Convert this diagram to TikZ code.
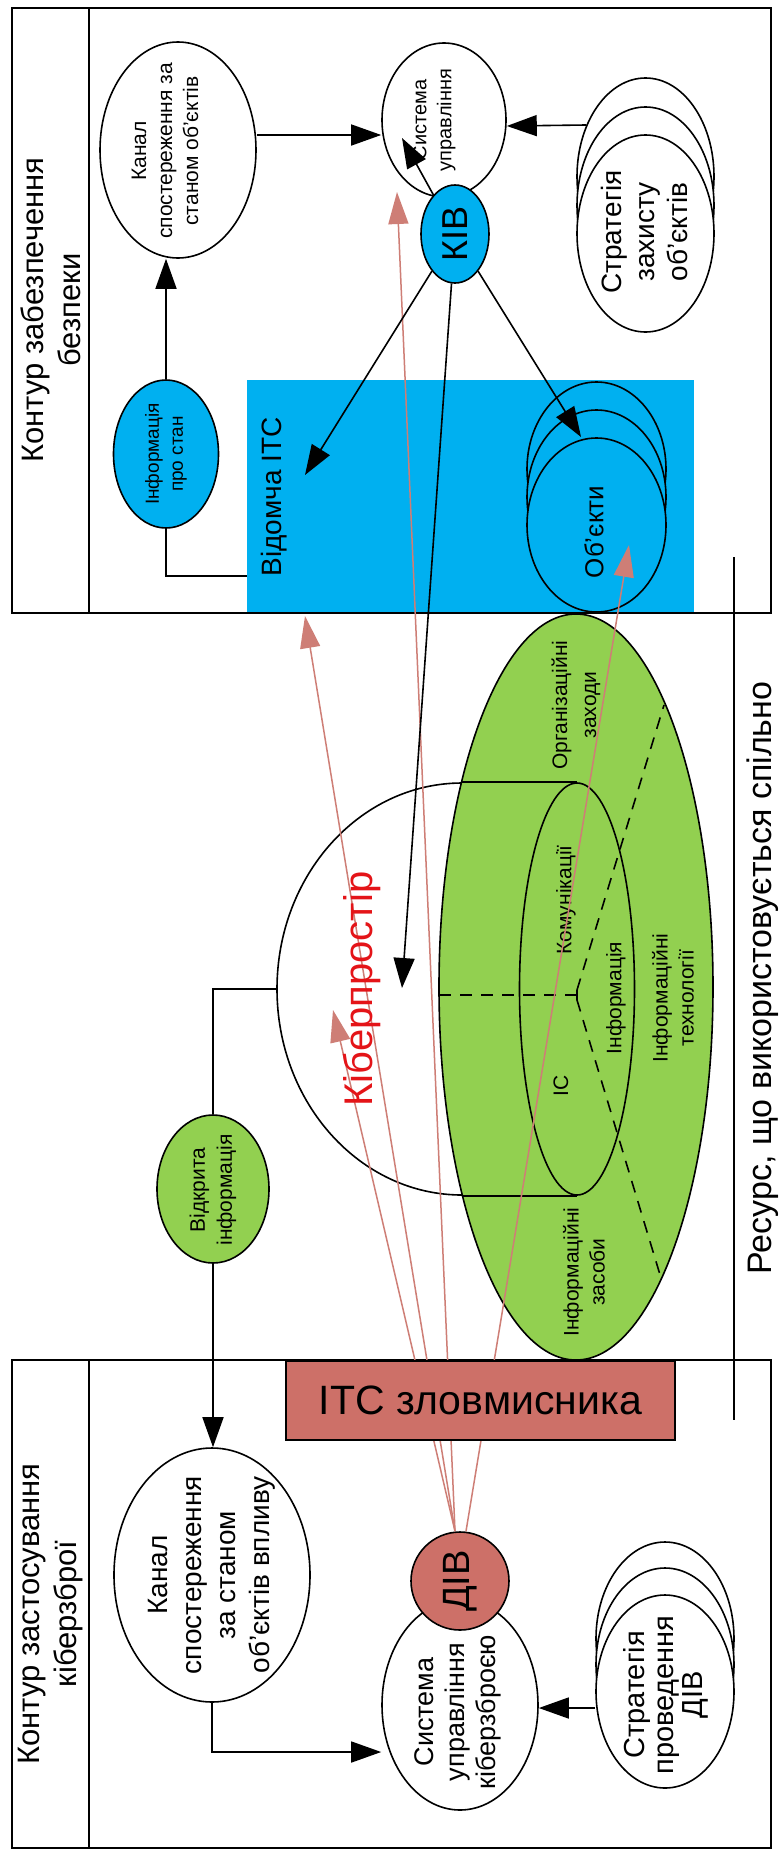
\documentclass[tikz,border=0pt]{standalone}
\usepackage{fontspec}
\setmainfont{Liberation Sans}
\usetikzlibrary{shapes.geometric,arrows.meta}

\definecolor{itcblue}{RGB}{0,176,240}
\definecolor{resgreen}{RGB}{146,208,80}
\definecolor{attack}{RGB}{205,112,104}
\definecolor{attackline}{RGB}{206,126,118}
\definecolor{cyberred}{RGB}{228,20,24}

\newcommand\fs[2]{\fontsize{#1}{#2}\selectfont}

\tikzset{
  ell/.style={ellipse, draw, line width=1.6pt, inner sep=0pt},
  lbl/.style={rotate=90, align=center, inner sep=0pt},
  conn/.style={line width=1.6pt},
  arr/.style={conn, -{Triangle[length=30pt,width=21pt]}},
  redarr/.style={draw=attackline, line width=1.5pt, -{Triangle[length=32pt,width=20pt]}},
  frm/.style={line width=1.8pt},
  dsh/.style={line width=1.6pt, dash pattern=on 12pt off 9pt}
}

\begin{document}
\begin{tikzpicture}[x=1pt, y=-1pt]
\useasboundingbox (0,0) rectangle (779,1850);
\fill[white] (0,0) rectangle (779,1850);

% departmental network block
\node[fill=itcblue, minimum width=447, minimum height=233, inner sep=0pt, anchor=north west] (itc) at (247,380) {};
\node[lbl, font={\fs{28}{32}}] (itct) at (274,497) {Відомча ІТС};

% cyberspace and shared resource
\node[ell, fill=white, minimum width=370, minimum height=412] (cyber) at (462,989) {};
\node[ell, fill=resgreen, minimum width=274, minimum height=746] (res) at (576,987) {};
\node[ell, minimum width=115, minimum height=412] (ic) at (577,989) {};
\draw[conn] (cyber.north) -- (ic.north);
\draw[conn] (cyber.south) -- (ic.south);
\coordinate (fork) at (577,995);
\coordinate (dA) at (439,995);
\coordinate (dB) at (664,705);
\coordinate (dC) at (661,1278);
\draw[dsh] (dA) -- (fork);
\draw[conn] (577,990) -- (577,1000);
\draw[dsh] (577,990) -- (dB);
\draw[dsh] (577,1000) -- (dC);
\node[lbl, font={\fs{21}{29}}] (orgt) at (576,705) {Організаційні\\заходи};
\node[lbl, font={\fs{21}{25}}] (comt) at (566,900) {Комунікації};
\node[lbl, font={\fs{21}{25}}] (inft) at (616,998) {Інформація};
\node[lbl, font={\fs{21}{25}}] (ict) at (561,1086) {ІС};
\node[lbl, font={\fs{21}{26}}] (techt) at (673,998) {Інформаційні\\технології};
\node[lbl, font={\fs{21}{26}}] (meant) at (584,1272) {Інформаційні\\засоби};

% frames
\draw[frm] (12,8) rectangle (771,613);
\draw[frm] (89,8) -- (89,613);
\node[lbl, font={\fs{31}{37}}] (titleA) at (51,310) {Контур забезпечення\\безпеки};
\draw[frm] (12,1360) rectangle (771,1848);
\draw[frm] (89,1360) -- (89,1848);
\node[lbl, font={\fs{31}{37}}] (titleB) at (51,1614) {Контур застосування\\кіберзброї};

% shared resource marker
\coordinate (rs1) at (734,557);
\coordinate (rs2) at (734,1420);
\draw[conn] (rs1) -- (rs2);
\node[lbl, font={\fs{34}{38}}] (rest) at (763,978) {Ресурс, що використовується спільно};

% security loop
\node[ell, fill=white, minimum width=156, minimum height=216] (kanalA) at (178,150) {};
\node[lbl, font={\fs{21}{26}}] at (165,151) {Канал\\спостереження за\\станом об’єктів};
\node[ell, fill=white, minimum width=124, minimum height=154] (sysA) at (444,120) {};
\node[lbl, font={\fs{20}{25}}] at (434,120) {Система\\управління};
\node[ell, fill=white, minimum width=137, minimum height=197] (stratA1) at (645.5,176.5) {};
\node[ell, fill=white, minimum width=137, minimum height=197] (stratA2) at (645.5,205.5) {};
\node[ell, fill=white, minimum width=137, minimum height=197] (stratA3) at (645.5,233.5) {};
\node[lbl, font={\fs{28}{33}}] at (644,232) {Стратегія\\захисту\\об’єктів};
\node[ell, fill=itcblue, minimum width=105, minimum height=148] (infoA) at (166,454) {};
\node[lbl, font={\fs{19}{24}}] at (166,454) {Інформація\\про стан};
\node[ell, fill=itcblue, minimum width=139, minimum height=174] (obj1) at (596.5,469) {};
\node[ell, fill=itcblue, minimum width=139, minimum height=174] (obj2) at (596.5,497) {};
\node[ell, fill=itcblue, minimum width=139, minimum height=174] (obj3) at (596.5,525) {};
\node[lbl, font={\fs{26}{30}}] at (594,532) {Об’єкти};

% weapon loop
\node[ell, fill=resgreen, minimum width=112, minimum height=148] (open) at (213,1189) {};
\node[lbl, font={\fs{21}{27}}] at (213,1190) {Відкрита\\інформація};
\node[ell, fill=white, minimum width=196, minimum height=254] (kanalB) at (212,1575) {};
\node[lbl, font={\fs{28}{34}}] at (212,1575) {Канал\\спостереження\\за станом\\об’єктів впливу};
\node[ell, fill=white, minimum width=156, minimum height=210] (sysB) at (460,1705) {};
\node[lbl, font={\fs{27}{31}}] at (458,1712) {Система\\управління\\кіберзброєю};
\node[ell, fill=white, minimum width=138, minimum height=193] (stratB1) at (665,1638.5) {};
\node[ell, fill=white, minimum width=138, minimum height=193] (stratB2) at (665,1664.5) {};
\node[ell, fill=white, minimum width=138, minimum height=193] (stratB3) at (665,1691.5) {};
\node[lbl, font={\fs{29}{29}}] at (666,1695) {Стратегія\\проведення\\ДІВ};
\node[circle, draw, line width=1.6pt, fill=attack, minimum size=98, inner sep=0pt] (div) at (460,1581) {};
\node[lbl, font={\fs{38}{40}}] at (div.center) {ДІВ};

% connectors of the security loop
\coordinate (yA) at (0,135);
\coordinate (yB) at (0,576);
\coordinate (yC) at (0,126);
\draw[arr] (kanalA.east |- yA) -- (sysA.west |- yA);
\draw[arr] (infoA.north) -- (infoA.north |- kanalA.south);
\draw[conn] (infoA.south) |- (itc.west |- yB);
\draw[arr] (stratA1.139) -- (sysA.east |- yC);

% connectors of the weapon loop
\coordinate (yD) at (0,1708);
\coordinate (yE) at (0,1752);
\draw[conn] (open.north) |- (cyber.west);
\draw[arr] (open.south) -- (open.south |- kanalB.north);
\draw[arr] (kanalB.south) |- (sysB.west |- yE);
\draw[arr] (stratB3.west |- yD) -- (sysB.east |- yD);

% attack vectors
\coordinate (d1) at ([xshift=-5pt]div.north);
\coordinate (d2) at ([xshift=6pt]div.north);
\coordinate (rt1) at (305,616);
\coordinate (rt2) at (397,192);
\coordinate (rt3) at (333,1010);
\coordinate (rt4) at (629,545);
\draw[redarr] (d1) -- (rt1);
\draw[redarr] (d1) -- (rt2);
\draw[redarr] (d1) -- (rt3);
\draw[redarr] (d2) -- (rt4);

\node[lbl, font={\fs{40}{44}}, text=cyberred] (cybert) at (362,989) {Кіберпростір};

% attacker network
\node[draw, line width=1.6pt, fill=attack, minimum width=389, minimum height=79, inner sep=0pt, anchor=north west, font={\fs{41}{45}}] (itcatt) at (285,1360) {ІТС зловмисника};

% security incident centre
\node[ell, fill=itcblue, minimum width=68, minimum height=98] (kiv) at (455,234) {};
\node[lbl, font={\fs{36}{40}}] at (kiv.center) {КІВ};
\coordinate (kt1) at (305,475);
\coordinate (kt2) at (402,988);
\coordinate (kt3) at (581,437);
\coordinate (kt4) at (402,138);
\draw[arr] (kiv) -- (kt1);
\draw[arr] (kiv) -- (kt2);
\draw[arr] (kiv) -- (kt3);
\draw[arr] (kiv) -- (kt4);
\end{tikzpicture}
\end{document}
